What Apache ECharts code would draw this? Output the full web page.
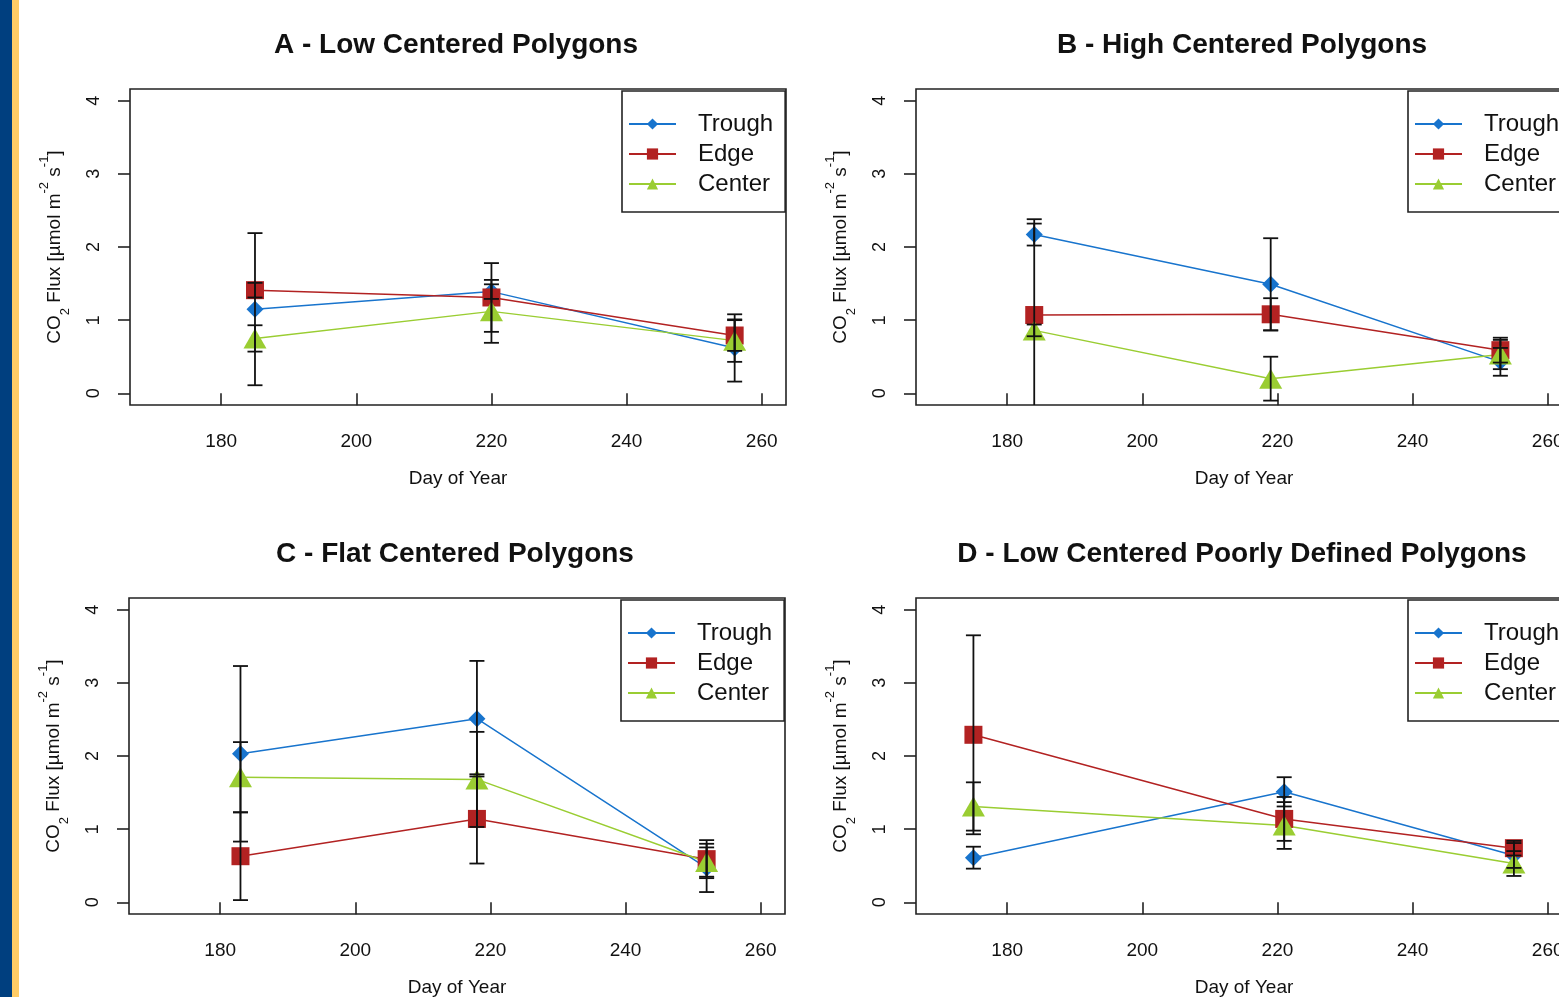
<!DOCTYPE html>
<html>
<head>
<meta charset="utf-8">
<script src="https://cdn.jsdelivr.net/npm/echarts@6/dist/echarts.min.js"></script>
<style>
html,body{margin:0;padding:0;background:#fff;}
#chart{width:1559px;height:997px;}
</style>
</head>
<body>
<div id="chart"></div>
<script>
// ---------- data ----------
const panelTitles = ['A - Low Centered Polygons', 'B - High Centered Polygons', 'C - Flat Centered Polygons', 'D - Low Centered Poorly Defined Polygons'];
const seriesNames = ['Trough', 'Edge', 'Center'];
const xTicks = [180, 200, 220, 240, 260];
const yTicks = [0, 1, 2, 3, 4];

const daysA = [185, 220, 256];
const troughA = [1.15, 1.39, 0.62];
const troughErrA = [1.04, 0.10, 0.46];
const edgeA = [1.41, 1.31, 0.79];
const edgeErrA = [0.10, 0.47, 0.21];
const centerA = [0.75, 1.12, 0.72];
const centerErrA = [0.18, 0.43, 0.29];

const daysB = [184, 219, 253];
const troughB = [2.17, 1.49, 0.43];
const troughErrB = [0.15, 0.63, 0.19];
const edgeB = [1.07, 1.08, 0.59];
const edgeErrB = [1.31, 0.22, 0.17];
const centerB = [0.86, 0.20, 0.53];
const centerErrB = [0.08, 0.30, 0.20];

const daysC = [183, 218, 252];
const troughC = [2.03, 2.51, 0.47];
const troughErrC = [1.20, 0.79, 0.33];
const edgeC = [0.63, 1.14, 0.59];
const edgeErrC = [0.60, 0.61, 0.26];
const centerC = [1.71, 1.68, 0.55];
const centerErrC = [0.48, 0.65, 0.20];

const daysD = [175, 221, 255];
const troughD = [0.61, 1.51, 0.64];
const troughErrD = [0.15, 0.20, 0.17];
const edgeD = [2.29, 1.14, 0.74];
const edgeErrD = [1.36, 0.30, 0.10];
const centerD = [1.31, 1.05, 0.53];
const centerErrD = [0.33, 0.32, 0.17];

// ---------- styling / layout ----------
const FONT = '"Liberation Sans", Arial, Helvetica, sans-serif';
const colors = { Trough: '#1874CD', Edge: '#B22222', Center: '#9ACD32' };
const symbols = { Trough: 'diamond', Edge: 'rect', Center: 'triangle' };
const symbolSizes = { Trough: 17, Edge: 18, Center: [23, 20] };

const panels = [
  { days: daysA, vals: [troughA, edgeA, centerA], errs: [troughErrA, edgeErrA, centerErrA], left: 130, top: 89 },
  { days: daysB, vals: [troughB, edgeB, centerB], errs: [troughErrB, edgeErrB, centerErrB], left: 916, top: 89 },
  { days: daysC, vals: [troughC, edgeC, centerC], errs: [troughErrC, edgeErrC, centerErrC], left: 129, top: 598 },
  { days: daysD, vals: [troughD, edgeD, centerD], errs: [troughErrD, edgeErrD, centerErrD], left: 916, top: 598 }
];
const GW = 656, GH = 316;

const grids = [], xAxes = [], yAxes = [], titles = [], legends = [], series = [];

panels.forEach((p, gi) => {
  grids.push({
    left: p.left, top: p.top, width: GW, height: GH,
    show: true, borderColor: '#222', borderWidth: 1.6, backgroundColor: 'transparent',
    containLabel: false, outerBoundsMode: 'none'
  });
  xAxes.push({
    type: 'value', gridIndex: gi, min: 166.5, max: 263.6,
    name: 'Day of Year', nameLocation: 'middle', nameGap: 64, nameMoveOverlap: false,
    nameTextStyle: { fontFamily: FONT, fontSize: 19, color: '#111' },
    axisLine: { show: false },
    axisTick: { show: true, length: 12, customValues: xTicks, lineStyle: { color: '#222', width: 1.6 } },
    axisLabel: { show: true, margin: 27, customValues: xTicks, fontFamily: FONT, fontSize: 19, color: '#111' },
    splitLine: { show: false }
  });
  yAxes.push({
    type: 'value', gridIndex: gi, min: -0.16, max: 4.16,
    name: '{n|CO}{sub|2}{n| Flux [µmol m}{sup|-2}{n| s}{sup|-1}{n|]}',
    nameLocation: 'middle', nameRotate: 90, nameGap: 58, nameMoveOverlap: false,
    nameTextStyle: {
      fontFamily: FONT, fontSize: 19, color: '#111',
      rich: {
        n: { fontFamily: FONT, fontSize: 19, color: '#111', lineHeight: 34 },
        sub: { fontFamily: FONT, fontSize: 13, color: '#111', lineHeight: 24, verticalAlign: 'bottom' },
        sup: { fontFamily: FONT, fontSize: 13, color: '#111', lineHeight: 13, verticalAlign: 'top' }
      }
    },
    axisLine: { show: false },
    axisTick: { show: true, length: 12, customValues: yTicks, lineStyle: { color: '#222', width: 1.6 } },
    axisLabel: { show: true, rotate: 90, margin: 27, customValues: yTicks, fontFamily: FONT, fontSize: 18, color: '#111' },
    splitLine: { show: false }
  });
  titles.push({
    text: panelTitles[gi], left: p.left + GW / 2 - 2, top: p.top - 58, textAlign: 'center', padding: 0,
    textStyle: { fontFamily: FONT, fontSize: 28, fontWeight: 'bold', color: '#111' }
  });
  legends.push({
    data: seriesNames, orient: 'vertical',
    left: p.left + 492, top: p.top + 2,
    padding: [18, 12, 13, 6], itemGap: 0, itemWidth: 47, itemHeight: 14,
    borderColor: '#222', borderWidth: 1.6, backgroundColor: '#fff', borderRadius: 0,
    selectedMode: false,
    textStyle: { fontFamily: FONT, fontSize: 24, color: '#111', lineHeight: 30, padding: [0, 0, 0, 17] }
  });

  seriesNames.forEach((nm, si) => {
    series.push({
      type: 'line', name: nm, xAxisIndex: gi, yAxisIndex: gi,
      data: p.days.map((d, i) => [d, p.vals[si][i]]),
      symbol: symbols[nm], symbolSize: symbolSizes[nm], showSymbol: true,
      lineStyle: { color: colors[nm], width: 1.5 },
      itemStyle: { color: colors[nm] },
      z: 3, silent: true, animation: false
    });
  });
  seriesNames.forEach((nm, si) => {
    series.push({
      type: 'custom', name: nm + ' SE', xAxisIndex: gi, yAxisIndex: gi, z: 5, clip: true, silent: true,
      animation: false,
      data: p.days.map((d, i) => [d, p.vals[si][i] - p.errs[si][i], p.vals[si][i] + p.errs[si][i]]),
      renderItem: (params, api) => {
        const lo = api.coord([api.value(0), api.value(1)]);
        const hi = api.coord([api.value(0), api.value(2)]);
        const hw = 7.5;
        const style = { stroke: '#111', lineWidth: 1.8, fill: null };
        return {
          type: 'group', children: [
            { type: 'line', shape: { x1: lo[0], y1: lo[1], x2: hi[0], y2: hi[1] }, style: style },
            { type: 'line', shape: { x1: lo[0] - hw, y1: lo[1], x2: lo[0] + hw, y2: lo[1] }, style: style },
            { type: 'line', shape: { x1: hi[0] - hw, y1: hi[1], x2: hi[0] + hw, y2: hi[1] }, style: style }
          ]
        };
      }
    });
  });
});

const chart = echarts.init(document.getElementById('chart'), null, { renderer: 'canvas' });
chart.setOption({
  backgroundColor: '#fff',
  animation: false,
  title: titles,
  legend: legends,
  grid: grids,
  xAxis: xAxes,
  yAxis: yAxes,
  series: series,
  graphic: [
    { type: 'rect', left: 0, top: 0, shape: { width: 12, height: 997 }, style: { fill: '#003F7F' }, silent: true },
    { type: 'rect', left: 12, top: 0, shape: { width: 7, height: 997 }, style: { fill: '#FFCC66' }, silent: true }
  ]
});
</script>
</body>
</html>
